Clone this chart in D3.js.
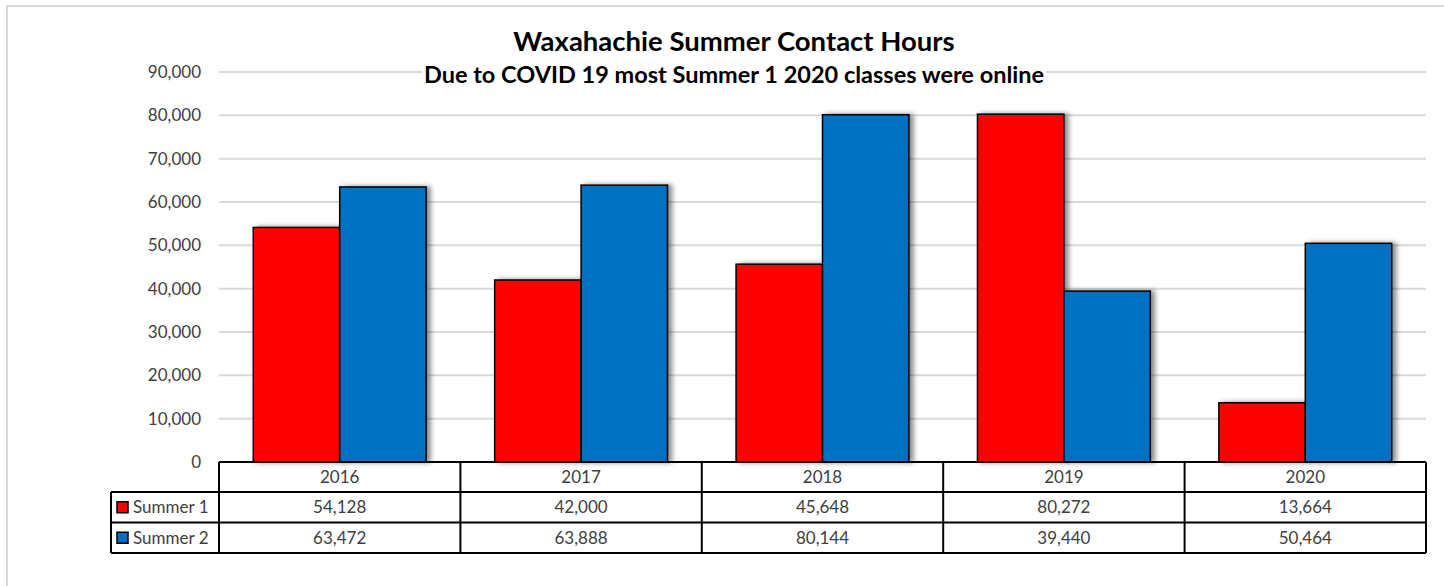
<!DOCTYPE html>
<html>
<head>
<meta charset="utf-8">
<script src="https://cdn.jsdelivr.net/npm/d3@7"></script>
<style>
  body { margin: 0; background: #fff; }
  text { font-family: Lato, "Open Sans", sans-serif; }
</style>
</head>
<body>
<div id="chart"></div>
<script>

// chart data
var years = ["2016", "2017", "2018", "2019", "2020"];
var seriesNames = ["Summer 1", "Summer 2"];
var summer1 = [54128, 42000, 45648, 80272, 13664];
var summer2 = [63472, 63888, 80144, 39440, 50464];
var yTicks = [0, 10000, 20000, 30000, 40000, 50000, 60000, 70000, 80000, 90000];
var colors = ["#ff0000", "#0070c0"];

var width = 1444;
var height = 586;

// plot area
var plotLeft = 219, plotRight = 1426, plotTop = 72, plotBottom = 462;
// data table under the plot
var rowY = [462, 492, 522.5, 553];
var labelLeft = 111;

var seriesValues = [summer1, summer2];

var svg = d3.select("#chart")
  .append("svg")
  .attr("width", width)
  .attr("height", height);

var defs = svg.append("defs");
var shadow = defs.append("filter")
  .attr("id", "shadow")
  .attr("x", "-20%").attr("y", "-10%")
  .attr("width", "150%").attr("height", "130%");
shadow.append("feDropShadow")
  .attr("dx", 4).attr("dy", 0)
  .attr("stdDeviation", 2.5)
  .attr("flood-color", "#000")
  .attr("flood-opacity", 0.45);

// outer chart border
svg.append("rect")
  .attr("x", 7).attr("y", 6)
  .attr("width", 1460).attr("height", 620)
  .attr("fill", "none")
  .attr("stroke", "#d9d9d9")
  .attr("stroke-width", 2);

var xScale = d3.scaleBand()
  .domain(years)
  .range([plotLeft, plotRight]);

var xInner = d3.scaleBand()
  .domain(seriesNames)
  .range([xScale.bandwidth() * 0.142, xScale.bandwidth() * 0.858]);

var yScale = d3.scaleLinear()
  .domain([0, 90000])
  .range([plotBottom, plotTop]);

// gridlines
svg.append("g")
  .selectAll("line")
  .data(yTicks.filter(function(d) { return d > 0; }))
  .enter().append("line")
  .attr("x1", plotLeft).attr("x2", plotRight)
  .attr("y1", function(d) { return yScale(d); })
  .attr("y2", function(d) { return yScale(d); })
  .attr("stroke", "#d9d9d9")
  .attr("stroke-width", 2);

// y axis labels
var yAxis = svg.append("g")
  .attr("transform", "translate(" + plotLeft + ",0)")
  .call(d3.axisLeft(yScale).tickValues(yTicks).tickFormat(d3.format(",")).tickSize(0).tickPadding(18));
yAxis.select(".domain").remove();
yAxis.selectAll("text")
  .attr("font-family", "Lato, 'Open Sans', sans-serif")
  .attr("font-size", "17px")
  .attr("fill", "#404040");

// title and subtitle (white box hides the gridline behind it)
svg.append("rect")
  .attr("x", 422).attr("y", 63)
  .attr("width", 624).attr("height", 26)
  .attr("fill", "#fff");

svg.append("text")
  .attr("x", 734).attr("y", 51)
  .attr("text-anchor", "middle")
  .attr("font-weight", "bold")
  .attr("font-size", "27.5px")
  .attr("fill", "#000")
  .text("Waxahachie Summer Contact Hours");

svg.append("text")
  .attr("x", 734).attr("y", 83)
  .attr("text-anchor", "middle")
  .attr("font-weight", "bold")
  .attr("font-size", "23.5px")
  .attr("fill", "#000")
  .text("Due to COVID 19 most Summer 1 2020 classes were online");

// bars
var groups = svg.append("g")
  .selectAll(".year")
  .data(years)
  .enter().append("g")
  .attr("class", "year")
  .attr("transform", function(d) { return "translate(" + xScale(d) + ",0)"; });

groups.selectAll("rect")
  .data(function(d, i) {
    return seriesNames.map(function(s, j) { return { key: s, value: seriesValues[j][i], idx: j }; });
  })
  .enter().append("rect")
  .attr("x", function(d) { return xInner(d.key); })
  .attr("width", xInner.bandwidth())
  .attr("y", function(d) { return yScale(d.value); })
  .attr("height", function(d) { return plotBottom - yScale(d.value); })
  .attr("fill", function(d) { return colors[d.idx]; })
  .attr("stroke", "#000")
  .attr("stroke-width", 1.5)
  .attr("filter", "url(#shadow)");

// data table
var table = svg.append("g");

table.append("line")
  .attr("x1", plotLeft).attr("x2", plotRight)
  .attr("y1", rowY[0]).attr("y2", rowY[0])
  .attr("stroke", "#000").attr("stroke-width", 2);

[rowY[1], rowY[2], rowY[3]].forEach(function(y) {
  table.append("line")
    .attr("x1", labelLeft).attr("x2", plotRight)
    .attr("y1", y).attr("y2", y)
    .attr("stroke", "#000").attr("stroke-width", 2);
});

years.concat(["end"]).forEach(function(d) {
  var x = d === "end" ? plotRight : xScale(d);
  table.append("line")
    .attr("x1", x).attr("x2", x)
    .attr("y1", rowY[0]).attr("y2", rowY[3])
    .attr("stroke", "#000").attr("stroke-width", 2);
});

table.append("line")
  .attr("x1", labelLeft).attr("x2", labelLeft)
  .attr("y1", rowY[1]).attr("y2", rowY[3])
  .attr("stroke", "#000").attr("stroke-width", 2);

table.selectAll(".yearLabel")
  .data(years)
  .enter().append("text")
  .attr("class", "yearLabel")
  .attr("x", function(d) { return xScale(d) + xScale.bandwidth() / 2; })
  .attr("y", (rowY[0] + rowY[1]) / 2)
  .attr("dy", "0.35em")
  .attr("text-anchor", "middle")
  .attr("font-size", "17px")
  .attr("fill", "#404040")
  .text(function(d) { return d; });

seriesNames.forEach(function(s, j) {
  var cy = (rowY[j + 1] + rowY[j + 2]) / 2;

  table.append("rect")
    .attr("x", 117).attr("y", cy - 5.5)
    .attr("width", 11).attr("height", 11)
    .attr("fill", colors[j])
    .attr("stroke", "#000")
    .attr("stroke-width", 1.5);

  table.append("text")
    .attr("x", 133).attr("y", cy)
    .attr("dy", "0.35em")
    .attr("font-size", "17px")
    .attr("fill", "#404040")
    .text(s);

  table.selectAll(".val" + j)
    .data(seriesValues[j])
    .enter().append("text")
    .attr("class", "val" + j)
    .attr("x", function(d, i) { return xScale(years[i]) + xScale.bandwidth() / 2; })
    .attr("y", cy)
    .attr("dy", "0.35em")
    .attr("text-anchor", "middle")
    .attr("font-size", "17px")
    .attr("fill", "#404040")
    .text(function(d) { return d3.format(",")(d); });
});

</script>
</body>
</html>
